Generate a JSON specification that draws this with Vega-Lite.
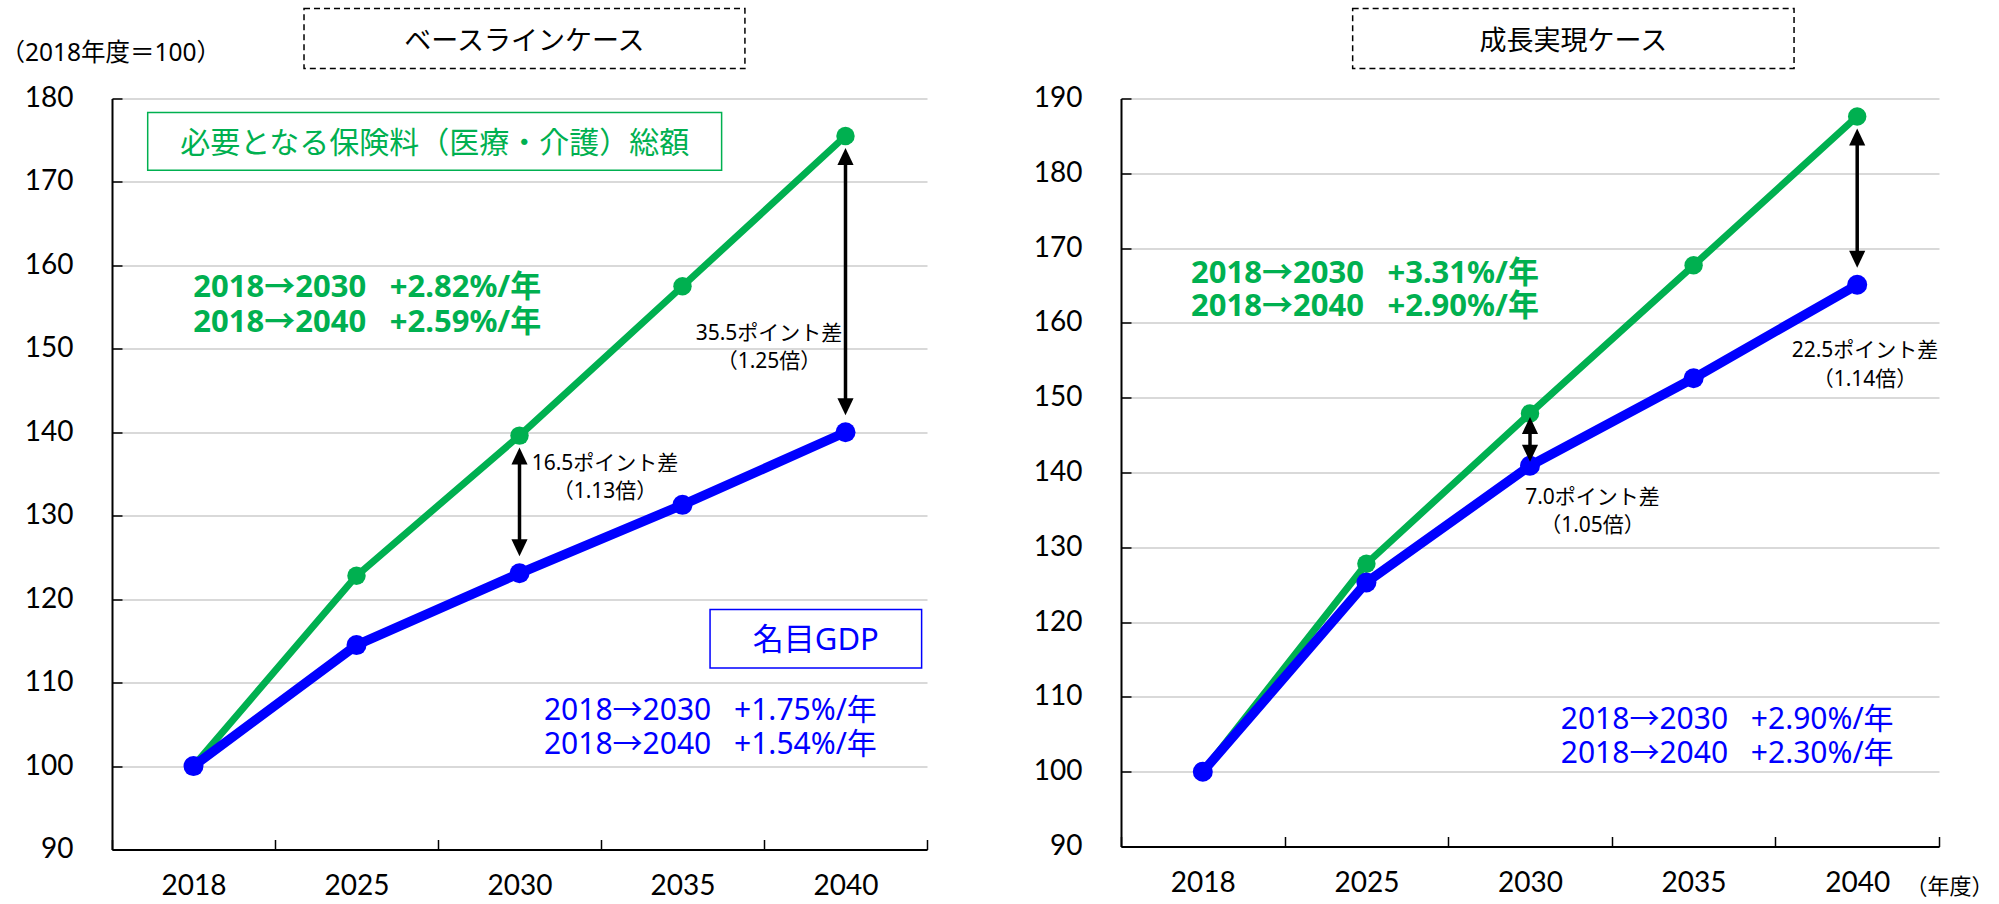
{
  "$schema": "https://vega.github.io/schema/vega-lite/v6.json",
  "padding": {"left": 0, "top": 7.5, "right": 0, "bottom": 0},
  "background": "white",
  "config": {
    "view": {"stroke": null},
    "font": "Noto Sans, Noto Sans CJK JP"
  },
  "datasets": {
    "series": [
      {"case": "ベースラインケース", "series": "保険料総額", "year": "2018", "value": 100},
      {"case": "ベースラインケース", "series": "保険料総額", "year": "2025", "value": 122.8},
      {"case": "ベースラインケース", "series": "保険料総額", "year": "2030", "value": 139.6},
      {"case": "ベースラインケース", "series": "保険料総額", "year": "2035", "value": 157.5},
      {"case": "ベースラインケース", "series": "保険料総額", "year": "2040", "value": 175.5},
      {"case": "ベースラインケース", "series": "名目GDP", "year": "2018", "value": 100},
      {"case": "ベースラインケース", "series": "名目GDP", "year": "2025", "value": 114.5},
      {"case": "ベースラインケース", "series": "名目GDP", "year": "2030", "value": 123.1},
      {"case": "ベースラインケース", "series": "名目GDP", "year": "2035", "value": 131.3},
      {"case": "ベースラインケース", "series": "名目GDP", "year": "2040", "value": 140.0},
      {"case": "成長実現ケース", "series": "保険料総額", "year": "2018", "value": 100},
      {"case": "成長実現ケース", "series": "保険料総額", "year": "2025", "value": 127.8},
      {"case": "成長実現ケース", "series": "保険料総額", "year": "2030", "value": 147.9},
      {"case": "成長実現ケース", "series": "保険料総額", "year": "2035", "value": 167.7},
      {"case": "成長実現ケース", "series": "保険料総額", "year": "2040", "value": 187.6},
      {"case": "成長実現ケース", "series": "名目GDP", "year": "2018", "value": 100},
      {"case": "成長実現ケース", "series": "名目GDP", "year": "2025", "value": 125.3},
      {"case": "成長実現ケース", "series": "名目GDP", "year": "2030", "value": 140.9},
      {"case": "成長実現ケース", "series": "名目GDP", "year": "2035", "value": 152.6},
      {"case": "成長実現ケース", "series": "名目GDP", "year": "2040", "value": 165.1}
    ]
  },
  "bounds": "flush",
  "spacing": 194,
  "hconcat": [
    {
      "width": 815, "height": 751,
      "resolve": {"scale": {"x": "independent"}},
      "layer": [
        {
          "data": {"name": "series"},
          "transform": [{"filter": "datum.case === 'ベースラインケース'"}],
          "encoding": {
            "x": {
              "field": "year", "type": "ordinal",
              "scale": {"type": "band", "domain": ["2018", "2025", "2030", "2035", "2040"], "paddingInner": 0, "paddingOuter": 0},
              "axis": {"title": null, "tickBand": "extent", "labelAngle": 0, "labelFont": "Lato", "labelFontSize": 28, "labelColor": "#000", "labelPadding": 46.7, "labelBaseline": "middle", "tickSize": -10, "tickColor": "#000", "tickWidth": 1.5, "domainColor": "#000", "domainWidth": 2, "grid": false}
            },
            "y": {
              "field": "value", "type": "quantitative",
              "scale": {"domain": [90, 180], "nice": false, "zero": false},
              "axis": {"values": [90, 100, 110, 120, 130, 140, 150, 160, 170, 180], "title": "（2018年度＝100）", "titleAngle": 0, "titleAlign": "left", "titleBaseline": "middle", "titleX": -112, "titleY": -45, "titleFontSize": 24.5, "titleFontWeight": "normal", "titleColor": "#000", "labelFont": "Lato", "labelFontSize": 28, "labelColor": "#000", "labelPadding": 49, "labelFlush": false, "labelOverlap": false, "tickSize": -10, "tickColor": "#000", "tickWidth": 1.5, "domainColor": "#000", "domainWidth": 2, "gridColor": "#D9D9D9", "gridWidth": 2}
            }
          },
          "layer": [
            {"transform": [{"filter": "datum.series === '保険料総額'"}], "mark": {"type": "line", "strokeWidth": 7, "strokeJoin": "round"}, "encoding": {"color": {"field": "series", "type": "nominal", "scale": {"domain": ["保険料総額", "名目GDP"], "range": ["#00B050", "#0000FF"]}, "legend": null}}},
            {"transform": [{"filter": "datum.series === '保険料総額'"}], "mark": {"type": "point", "filled": true, "opacity": 1, "size": 340}, "encoding": {"color": {"field": "series", "type": "nominal", "scale": {"domain": ["保険料総額", "名目GDP"], "range": ["#00B050", "#0000FF"]}, "legend": null}}},
            {"transform": [{"filter": "datum.series === '名目GDP'"}], "mark": {"type": "line", "strokeWidth": 9.5, "strokeJoin": "round"}, "encoding": {"color": {"field": "series", "type": "nominal", "scale": {"domain": ["保険料総額", "名目GDP"], "range": ["#00B050", "#0000FF"]}, "legend": null}}},
            {"transform": [{"filter": "datum.series === '名目GDP'"}], "mark": {"type": "point", "filled": true, "opacity": 1, "size": 400}, "encoding": {"color": {"field": "series", "type": "nominal", "scale": {"domain": ["保険料総額", "名目GDP"], "range": ["#00B050", "#0000FF"]}, "legend": null}}},
            {
              "transform": [
                {"filter": "datum.year === '2030' || datum.year === '2040'"},
                {"pivot": "series", "value": "value", "groupby": ["year"]}
              ],
              "layer": [
                {"mark": {"type": "rule", "color": "#000", "strokeWidth": 3.5, "yOffset": 20, "y2Offset": -25}, "encoding": {"y": {"field": "保険料総額", "type": "quantitative"}, "y2": {"field": "名目GDP"}}},
                {"mark": {"type": "point", "shape": "M0,-1L0.95,1L-0.95,1Z", "filled": true, "opacity": 1, "color": "#000", "size": 289, "yOffset": 20.5}, "encoding": {"y": {"field": "保険料総額", "type": "quantitative"}}},
                {"mark": {"type": "point", "shape": "M0,1L0.95,-1L-0.95,-1Z", "filled": true, "opacity": 1, "color": "#000", "size": 289, "yOffset": -25.5}, "encoding": {"y": {"field": "名目GDP", "type": "quantitative"}}},
                {
                  "transform": [{"filter": "datum.year === '2030'"}],
                  "mark": {"type": "text", "align": "center", "baseline": "top", "fontSize": 21, "lineHeight": 28.3, "color": "#000", "dx": 85.5, "dy": 17.3},
                  "encoding": {"y": {"field": "保険料総額", "type": "quantitative"}, "text": {"value": ["16.5ポイント差", "（1.13倍）"]}}
                },
                {
                  "transform": [{"filter": "datum.year === '2040'"}],
                  "mark": {"type": "text", "align": "center", "baseline": "top", "fontSize": 21, "lineHeight": 28.3, "color": "#000", "dx": -76.5, "dy": 186.9},
                  "encoding": {"y": {"field": "保険料総額", "type": "quantitative"}, "text": {"value": ["35.5ポイント差", "（1.25倍）"]}}
                }
              ]
            }
          ]
        },
        {
          "layer": [
            {
              "data": {"values": [{"caseTitle": "ベースラインケース"}]},
              "mark": {"type": "rect", "fill": "white", "stroke": "#000", "strokeWidth": 1.5, "strokeDash": [6, 4]},
              "encoding": {
                "x": {"datum": 1.178, "type": "quantitative", "scale": {"domain": [0, 5], "nice": false, "zero": false}, "axis": null},
                "x2": {"datum": 3.883},
                "y": {"datum": 183.59, "type": "quantitative"},
                "y2": {"datum": 190.78}
              }
            },
            {
              "data": {"values": [{"caseTitle": "ベースラインケース"}]},
              "mark": {"type": "text", "align": "center", "baseline": "middle", "fontSize": 27, "color": "#000"},
              "encoding": {
                "x": {"datum": 2.53, "type": "quantitative", "scale": {"domain": [0, 5], "nice": false, "zero": false}, "axis": null},
                "y": {"datum": 186.74, "type": "quantitative"},
                "text": {"field": "caseTitle"}
              }
            },
            {
              "data": {"values": [{"label": "必要となる保険料（医療・介護）総額"}]},
              "mark": {"type": "rect", "fill": "white", "stroke": "#00B050", "strokeWidth": 1.5},
              "encoding": {
                "x": {"datum": 0.219, "type": "quantitative", "scale": {"domain": [0, 5], "nice": false, "zero": false}, "axis": null},
                "x2": {"datum": 3.74},
                "y": {"datum": 171.4, "type": "quantitative"},
                "y2": {"datum": 178.32}
              }
            },
            {
              "data": {"values": [{"label": "必要となる保険料（医療・介護）総額"}]},
              "mark": {"type": "text", "align": "center", "baseline": "middle", "fontSize": 30, "color": "#00B050"},
              "encoding": {
                "x": {"datum": 1.98, "type": "quantitative", "scale": {"domain": [0, 5], "nice": false, "zero": false}, "axis": null},
                "y": {"datum": 174.59, "type": "quantitative"},
                "text": {"field": "label"}
              }
            },
            {
              "data": {"values": [{"label": ["2018→2030\u2002\u00a0+2.82%/年", "2018→2040\u2002\u00a0+2.59%/年"]}]},
              "mark": {"type": "text", "align": "left", "baseline": "top", "fontSize": 31, "fontWeight": "bold", "lineHeight": 34.5, "color": "#00B050"},
              "encoding": {
                "x": {"datum": 0.499, "type": "quantitative", "scale": {"domain": [0, 5], "nice": false, "zero": false}, "axis": null},
                "y": {"datum": 159.06, "type": "quantitative"},
                "text": {"field": "label"}
              }
            },
            {
              "data": {"values": [{"label": "名目GDP"}]},
              "mark": {"type": "rect", "fill": "white", "stroke": "#0000FF", "strokeWidth": 1.5},
              "encoding": {
                "x": {"datum": 3.669, "type": "quantitative", "scale": {"domain": [0, 5], "nice": false, "zero": false}, "axis": null},
                "x2": {"datum": 4.967},
                "y": {"datum": 111.76, "type": "quantitative"},
                "y2": {"datum": 118.76}
              }
            },
            {
              "data": {"values": [{"label": "名目GDP"}]},
              "mark": {"type": "text", "align": "center", "baseline": "middle", "fontSize": 31, "color": "#0000FF"},
              "encoding": {
                "x": {"datum": 4.318, "type": "quantitative", "scale": {"domain": [0, 5], "nice": false, "zero": false}, "axis": null},
                "y": {"datum": 115.02, "type": "quantitative"},
                "text": {"field": "label"}
              }
            },
            {
              "data": {"values": [{"label": ["2018→2030\u2002\u00a0+1.75%/年", "2018→2040\u2002\u00a0+1.54%/年"]}]},
              "mark": {"type": "text", "align": "left", "baseline": "top", "fontSize": 30, "lineHeight": 34.3, "color": "#0000FF"},
              "encoding": {
                "x": {"datum": 2.65, "type": "quantitative", "scale": {"domain": [0, 5], "nice": false, "zero": false}, "axis": null},
                "y": {"datum": 108.41, "type": "quantitative"},
                "text": {"field": "label"}
              }
            }
          ]
        }
      ]
    },
    {
      "width": 818, "height": 748,
      "resolve": {"scale": {"x": "independent"}},
      "layer": [
        {
          "data": {"name": "series"},
          "transform": [{"filter": "datum.case === '成長実現ケース'"}],
          "encoding": {
            "x": {
              "field": "year", "type": "ordinal",
              "scale": {"type": "band", "domain": ["2018", "2025", "2030", "2035", "2040"], "paddingInner": 0, "paddingOuter": 0},
              "axis": {"title": "（年度）", "titleAngle": 0, "titleAlign": "right", "titleBaseline": "middle", "titleX": 872, "titleY": 40, "titleFontSize": 22, "titleFontWeight": "normal", "titleColor": "#000", "tickBand": "extent", "labelAngle": 0, "labelFont": "Lato", "labelFontSize": 28, "labelColor": "#000", "labelPadding": 46.7, "labelBaseline": "middle", "tickSize": -10, "tickColor": "#000", "tickWidth": 1.5, "domainColor": "#000", "domainWidth": 2, "grid": false}
            },
            "y": {
              "field": "value", "type": "quantitative",
              "scale": {"domain": [90, 190], "nice": false, "zero": false},
              "axis": {"values": [90, 100, 110, 120, 130, 140, 150, 160, 170, 180, 190], "title": null, "labelFont": "Lato", "labelFontSize": 28, "labelColor": "#000", "labelPadding": 49, "labelFlush": false, "labelOverlap": false, "tickSize": -10, "tickColor": "#000", "tickWidth": 1.5, "domainColor": "#000", "domainWidth": 2, "gridColor": "#D9D9D9", "gridWidth": 2}
            }
          },
          "layer": [
            {"transform": [{"filter": "datum.series === '保険料総額'"}], "mark": {"type": "line", "strokeWidth": 7, "strokeJoin": "round"}, "encoding": {"color": {"field": "series", "type": "nominal", "scale": {"domain": ["保険料総額", "名目GDP"], "range": ["#00B050", "#0000FF"]}, "legend": null}}},
            {"transform": [{"filter": "datum.series === '保険料総額'"}], "mark": {"type": "point", "filled": true, "opacity": 1, "size": 340}, "encoding": {"color": {"field": "series", "type": "nominal", "scale": {"domain": ["保険料総額", "名目GDP"], "range": ["#00B050", "#0000FF"]}, "legend": null}}},
            {"transform": [{"filter": "datum.series === '名目GDP'"}], "mark": {"type": "line", "strokeWidth": 9.5, "strokeJoin": "round"}, "encoding": {"color": {"field": "series", "type": "nominal", "scale": {"domain": ["保険料総額", "名目GDP"], "range": ["#00B050", "#0000FF"]}, "legend": null}}},
            {"transform": [{"filter": "datum.series === '名目GDP'"}], "mark": {"type": "point", "filled": true, "opacity": 1, "size": 400}, "encoding": {"color": {"field": "series", "type": "nominal", "scale": {"domain": ["保険料総額", "名目GDP"], "range": ["#00B050", "#0000FF"]}, "legend": null}}},
            {
              "transform": [
                {"filter": "datum.year === '2030' || datum.year === '2040'"},
                {"pivot": "series", "value": "value", "groupby": ["year"]}
              ],
              "layer": [
                {
                  "transform": [{"filter": "datum['保険料総額'] - datum['名目GDP'] >= 10"}],
                  "layer": [
                    {"mark": {"type": "rule", "color": "#000", "strokeWidth": 3.5, "yOffset": 20, "y2Offset": -25}, "encoding": {"y": {"field": "保険料総額", "type": "quantitative"}, "y2": {"field": "名目GDP"}}},
                    {"mark": {"type": "point", "shape": "M0,-1L0.95,1L-0.95,1Z", "filled": true, "opacity": 1, "color": "#000", "size": 289, "yOffset": 20.5}, "encoding": {"y": {"field": "保険料総額", "type": "quantitative"}}},
                    {"mark": {"type": "point", "shape": "M0,1L0.95,-1L-0.95,-1Z", "filled": true, "opacity": 1, "color": "#000", "size": 289, "yOffset": -25.5}, "encoding": {"y": {"field": "名目GDP", "type": "quantitative"}}}
                  ]
                },
                {
                  "transform": [{"filter": "datum['保険料総額'] - datum['名目GDP'] < 10"}],
                  "layer": [
                    {"mark": {"type": "rule", "color": "#000", "strokeWidth": 3.5, "yOffset": 12, "y2Offset": -12}, "encoding": {"y": {"field": "保険料総額", "type": "quantitative"}, "y2": {"field": "名目GDP"}}},
                    {"mark": {"type": "point", "shape": "M0,-1L0.95,1L-0.95,1Z", "filled": true, "opacity": 1, "color": "#000", "size": 289, "yOffset": 12}, "encoding": {"y": {"field": "保険料総額", "type": "quantitative"}}},
                    {"mark": {"type": "point", "shape": "M0,1L0.95,-1L-0.95,-1Z", "filled": true, "opacity": 1, "color": "#000", "size": 289, "yOffset": -12.4}, "encoding": {"y": {"field": "名目GDP", "type": "quantitative"}}}
                  ]
                },
                {
                  "transform": [{"filter": "datum.year === '2030'"}],
                  "mark": {"type": "text", "align": "center", "baseline": "top", "fontSize": 21, "lineHeight": 28, "color": "#000", "dx": 62.5, "dy": 73.8},
                  "encoding": {"y": {"field": "保険料総額", "type": "quantitative"}, "text": {"value": ["7.0ポイント差", "（1.05倍）"]}}
                },
                {
                  "transform": [{"filter": "datum.year === '2040'"}],
                  "mark": {"type": "text", "align": "center", "baseline": "top", "fontSize": 21, "lineHeight": 28.7, "color": "#000", "dx": 7.8, "dy": 223.7},
                  "encoding": {"y": {"field": "保険料総額", "type": "quantitative"}, "text": {"value": ["22.5ポイント差", "（1.14倍）"]}}
                }
              ]
            }
          ]
        },
        {
          "layer": [
            {
              "data": {"values": [{"caseTitle": "成長実現ケース"}]},
              "mark": {"type": "rect", "fill": "white", "stroke": "#000", "strokeWidth": 1.5, "strokeDash": [6, 4]},
              "encoding": {
                "x": {"datum": 1.416, "type": "quantitative", "scale": {"domain": [0, 5], "nice": false, "zero": false}, "axis": null},
                "x2": {"datum": 4.114},
                "y": {"datum": 194.01, "type": "quantitative"},
                "y2": {"datum": 202.03}
              }
            },
            {
              "data": {"values": [{"caseTitle": "成長実現ケース"}]},
              "mark": {"type": "text", "align": "center", "baseline": "middle", "fontSize": 27, "color": "#000"},
              "encoding": {
                "x": {"datum": 2.765, "type": "quantitative", "scale": {"domain": [0, 5], "nice": false, "zero": false}, "axis": null},
                "y": {"datum": 197.53, "type": "quantitative"},
                "text": {"field": "caseTitle"}
              }
            },
            {
              "data": {"values": [{"label": ["2018→2030\u2002\u00a0+3.31%/年", "2018→2040\u2002\u00a0+2.90%/年"]}]},
              "mark": {"type": "text", "align": "left", "baseline": "top", "fontSize": 31, "fontWeight": "bold", "lineHeight": 32.8, "color": "#00B050"},
              "encoding": {
                "x": {"datum": 0.428, "type": "quantitative", "scale": {"domain": [0, 5], "nice": false, "zero": false}, "axis": null},
                "y": {"datum": 168.56, "type": "quantitative"},
                "text": {"field": "label"}
              }
            },
            {
              "data": {"values": [{"label": ["2018→2030\u2002\u00a0+2.90%/年", "2018→2040\u2002\u00a0+2.30%/年"]}]},
              "mark": {"type": "text", "align": "left", "baseline": "top", "fontSize": 30, "lineHeight": 33.4, "color": "#0000FF"},
              "encoding": {
                "x": {"datum": 2.688, "type": "quantitative", "scale": {"domain": [0, 5], "nice": false, "zero": false}, "axis": null},
                "y": {"datum": 108.89, "type": "quantitative"},
                "text": {"field": "label"}
              }
            }
          ]
        }
      ]
    }
  ]
}
